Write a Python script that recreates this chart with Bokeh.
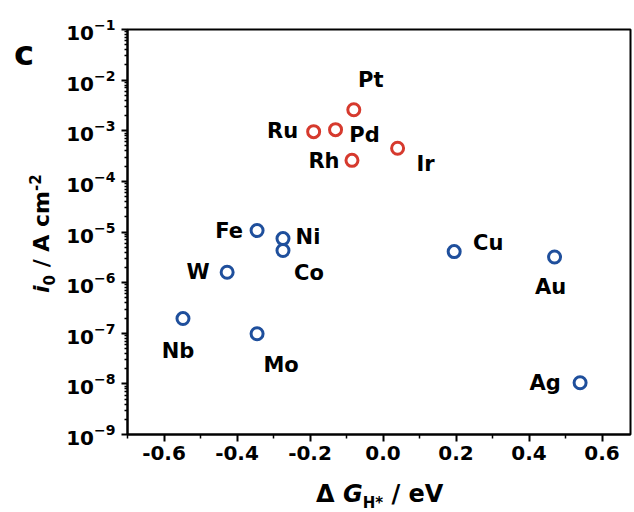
from bokeh.plotting import figure
from bokeh.layouts import row, column
from bokeh.models import ColumnDataSource, FixedTicker, NumeralTickFormatter, Range1d, Div
from bokeh.core.properties import value
from bokeh.embed import file_html
from bokeh.resources import INLINE

# ---------------- data ----------------
pgm_metals = ["Pt", "Ru", "Pd", "Rh", "Ir"]
pgm_dg = [-0.08, -0.19, -0.13, -0.085, 0.04]
pgm_i0 = [2.6e-3, 9.6e-4, 1.05e-3, 2.6e-4, 4.5e-4]

other_metals = ["Fe", "Ni", "Co", "W", "Nb", "Mo", "Cu", "Au", "Ag"]
other_dg = [-0.345, -0.274, -0.274, -0.427, -0.548, -0.345, 0.195, 0.47, 0.54]
other_i0 = [1.07e-5, 7.4e-6, 4.3e-6, 1.6e-6, 1.95e-7, 9.8e-8, 4.1e-6, 3.2e-6, 1.05e-8]

x_ticks = [-0.6, -0.4, -0.2, 0.0, 0.2, 0.4, 0.6]
x_minor_ticks = [-0.7, -0.5, -0.3, -0.1, 0.1, 0.3, 0.5]
y_exponents = [-9, -8, -7, -6, -5, -4, -3, -2, -1]

# label offsets (pixels) relative to each marker
pgm_dx = [17, -31, 29, -28, 28]
pgm_dy = [-30, -1, 5, 1, 16]
other_dx = [-28, 25, 26, -29, -5, 24, 34, -4, -35]
other_dy = [0, -2, 22, 0, 32, 31, -9, 30, 0]

RED = "#d63a2e"
BLUE = "#1f4f9c"
FONT = "DejaVu Sans"

# ---------------- layout ----------------
YW = 58            # width of y-title column
PW, PH = 574, 478  # figure size
XH = 32            # height of x-title row
FL, FR, FT, FB = 69, 572, 29, 434   # frame edges inside the figure
XS = -0.7
XE = XS + (FR - FL) / 365.0

p = figure(width=PW, height=PH, x_range=Range1d(XS, XE), y_range=Range1d(1e-9, 1e-1),
           y_axis_type="log", output_backend="svg", toolbar_location=None,
           min_border_left=FL, min_border_right=PW - FR, min_border_top=FT,
           min_border_bottom=PH - FB)
p.grid.visible = False
p.outline_line_color = "black"
p.outline_line_width = 2
p.outline_line_alpha = 1.0
p.background_fill_color = "white"
p.border_fill_color = "white"

yt = [10.0 ** e for e in y_exponents]
ymin = [k * 10.0 ** e for e in y_exponents[:-1] for k in range(2, 10)]
p.yaxis.ticker = FixedTicker(ticks=yt, minor_ticks=ymin)
p.xaxis.ticker = FixedTicker(ticks=x_ticks, minor_ticks=x_minor_ticks)
p.xaxis.formatter = NumeralTickFormatter(format="0.0")

for ax in (p.xaxis[0], p.yaxis[0]):
    ax.axis_line_width = 2
    ax.major_tick_line_width = 2
    ax.minor_tick_line_width = 1.5
    ax.major_tick_in = 0
    ax.minor_tick_in = 0
    ax.major_label_text_font = FONT
    ax.major_label_text_font_style = "bold"
    ax.major_label_text_font_size = "20px"
    ax.major_label_text_color = "black"
p.xaxis.major_tick_out = 7
p.xaxis.minor_tick_out = 4
p.xaxis.major_label_standoff = 4
p.yaxis.major_tick_out = 6
p.yaxis.minor_tick_out = 3
p.yaxis.major_label_standoff = 6

src_pgm = ColumnDataSource(dict(x=pgm_dg, y=pgm_i0, name=pgm_metals, dx=pgm_dx, dy=pgm_dy))
src_oth = ColumnDataSource(dict(x=other_dg, y=other_i0, name=other_metals, dx=other_dx, dy=other_dy))

for src, col in ((src_pgm, RED), (src_oth, BLUE)):
    p.scatter("x", "y", source=src, marker="circle", size=12, fill_color=None,
              line_color=col, line_width=3)
    p.text("x", "y", text="name", x_offset="dx", y_offset="dy", source=src,
           text_font=value(FONT), text_font_style="bold", text_font_size="21px",
           text_align="center", text_baseline="middle", text_color="black")

# ---------------- axis titles as rich text ----------------
base = "position:absolute; white-space:nowrap; font-family:'DejaVu Sans'; font-weight:bold; color:black;"
y_title = (
    f'<div style="{base} left:25px; top:293px; font-size:22px; line-height:22px; '
    'transform-origin:0 0; transform:rotate(-90deg);">'
    '<i>i</i><sub style="font-size:15px">0</sub> / A cm<sup style="font-size:15px">-2</sup></div>'
    f'<div style="{base} left:14px; top:36px; font-size:34px; line-height:34px;">c</div>'
)
x_title = (
    f'<div style="{base} left:316px; top:4px; font-size:24px; line-height:24px;">'
    '\u0394 <i>G</i><sub style="font-size:15px">H*</sub> / eV</div>'
)

ydiv = Div(text=y_title, width=YW, height=PH, margin=(0, 0, 0, 0),
           styles={"position": "relative", "overflow": "visible"})
xdiv = Div(text=x_title, width=YW + PW, height=XH, margin=(0, 0, 0, 0),
           styles={"position": "relative", "overflow": "visible"})

layout = column(row(ydiv, p, spacing=0), xdiv, spacing=0)

open("out.html", "w").write(file_html(layout, INLINE))
